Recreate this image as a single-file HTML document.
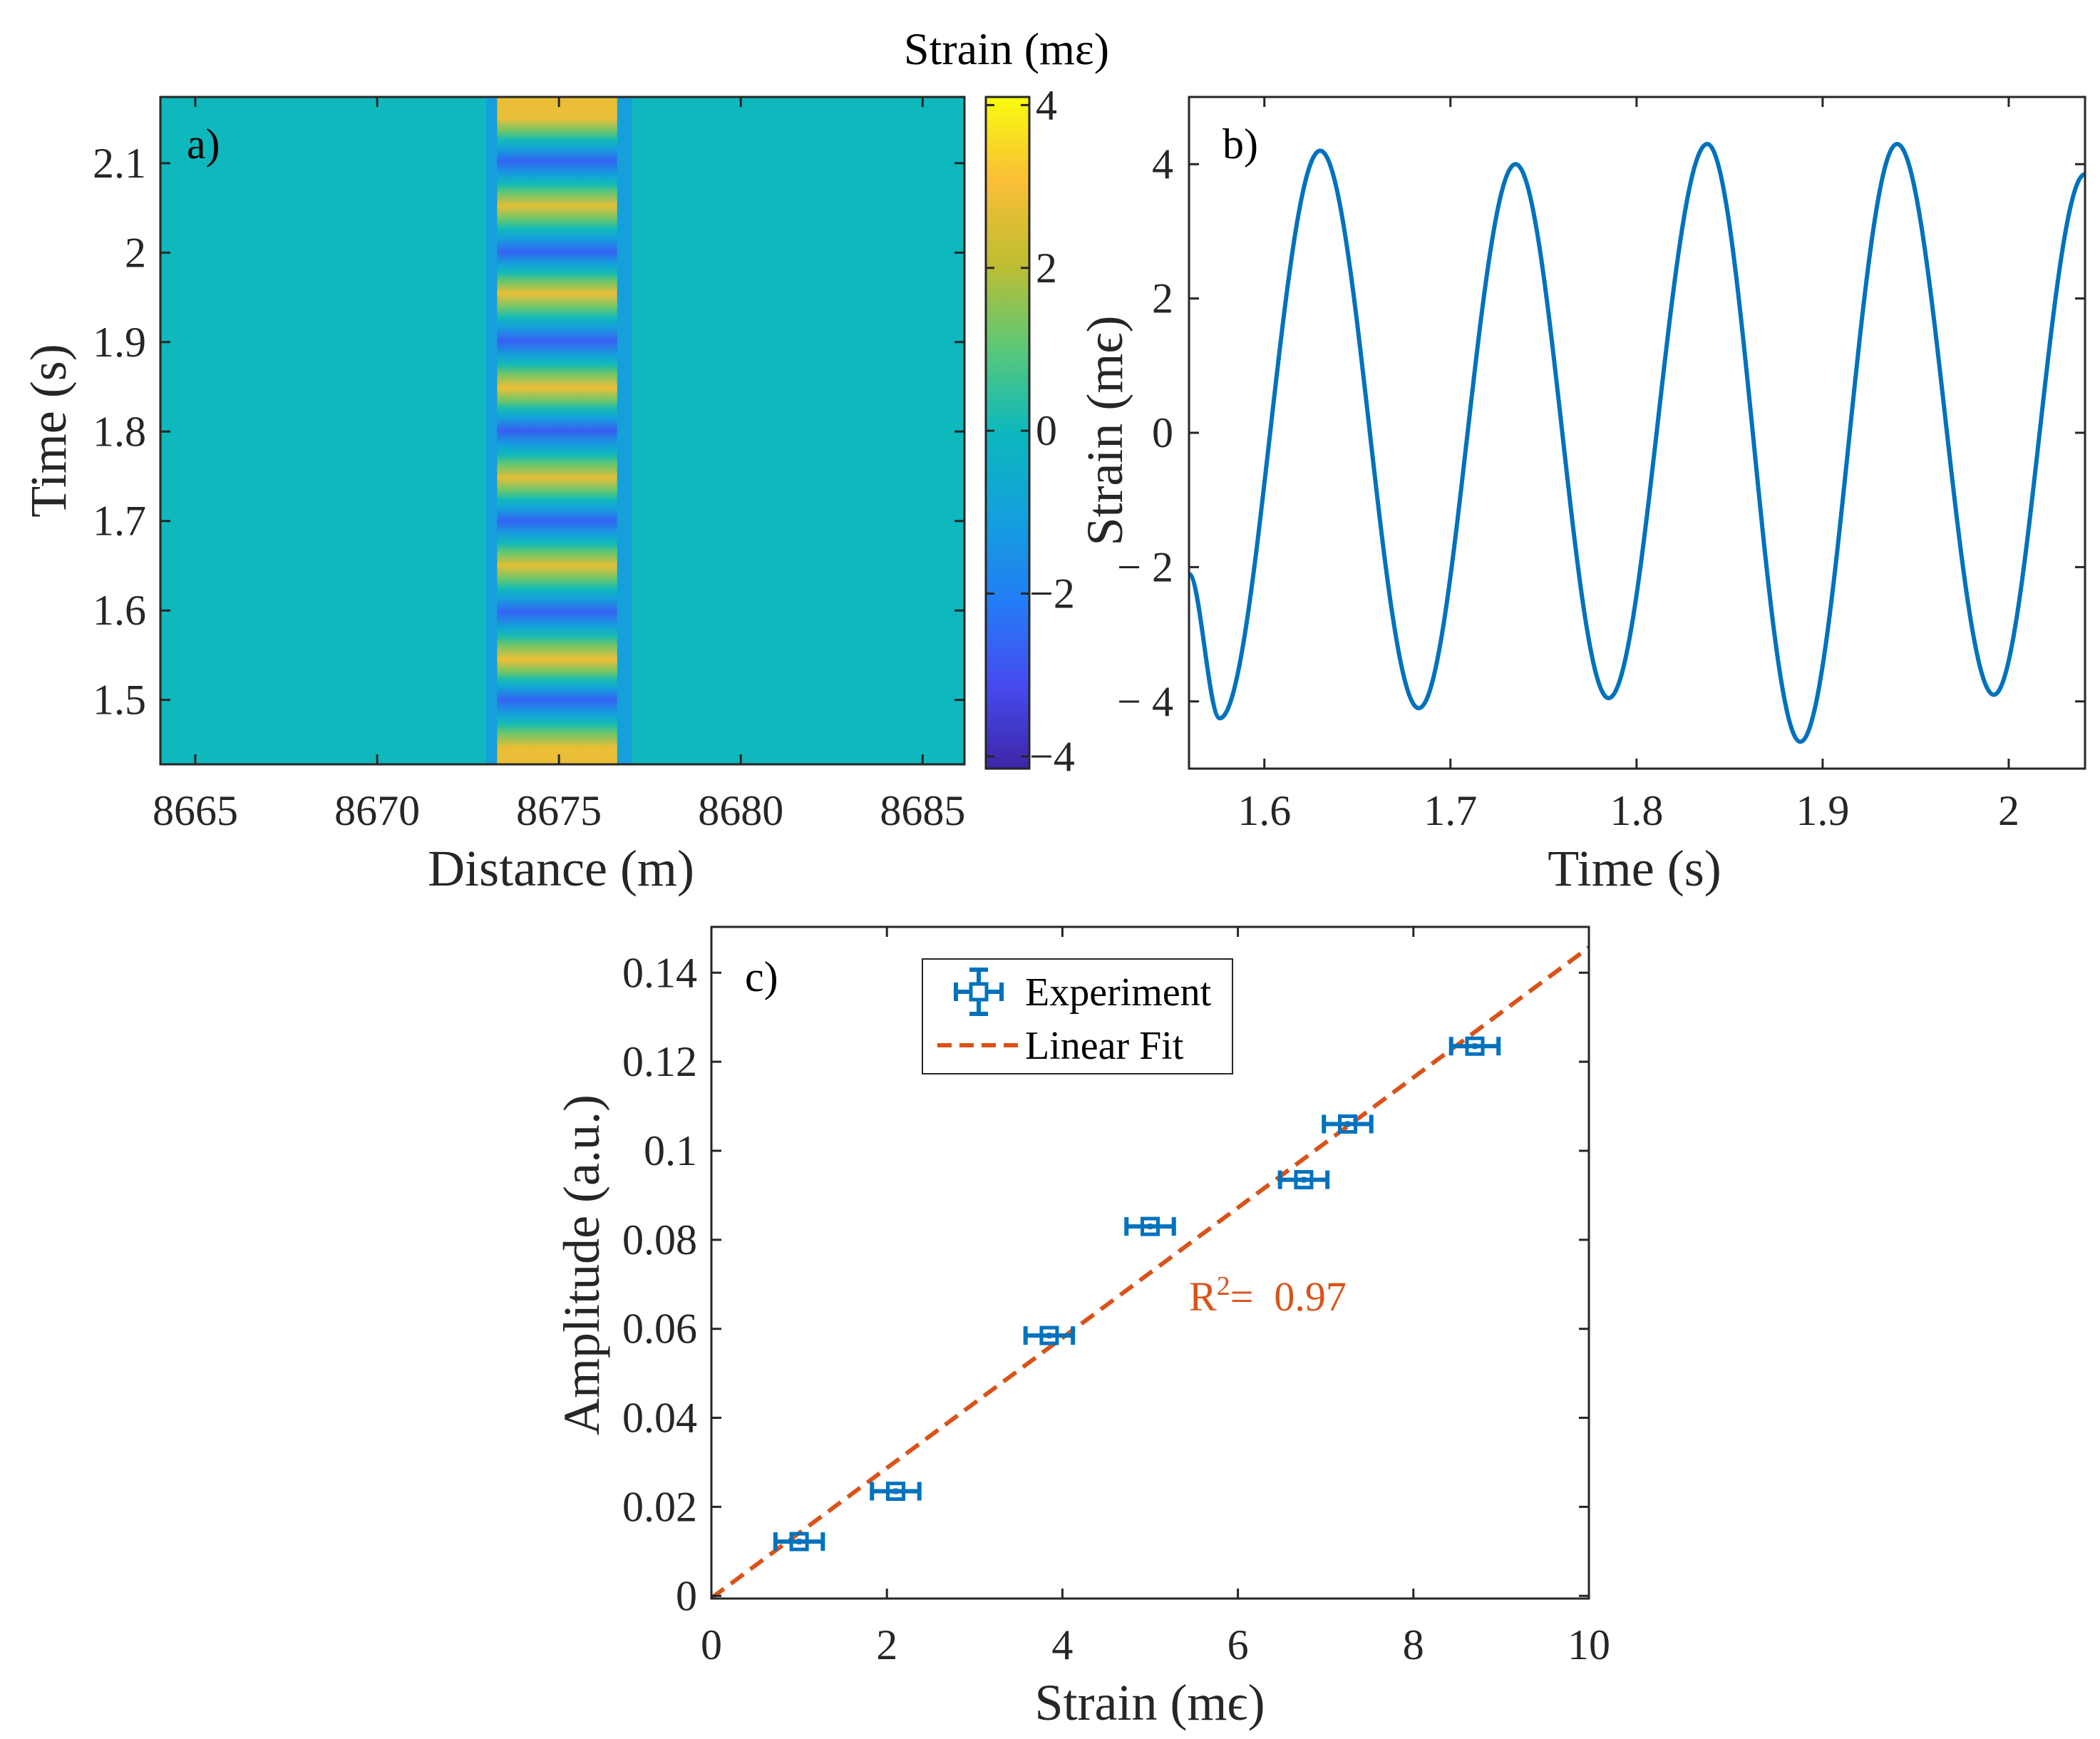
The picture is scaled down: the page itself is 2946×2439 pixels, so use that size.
<!DOCTYPE html>
<html><head><meta charset="utf-8"><style>
html,body{margin:0;padding:0;background:#fff}
svg{display:block;font-family:"Liberation Serif",serif}
</style></head><body>
<svg id="fig" width="2946" height="2439" viewBox="0 0 2946 2439" xmlns="http://www.w3.org/2000/svg">
<defs>
<clipPath id="clipA"><rect x="225" y="136" width="1128" height="936"/></clipPath>
<clipPath id="clipB"><rect x="1668" y="136" width="1257" height="942"/></clipPath>
<clipPath id="clipC"><rect x="998" y="1300" width="1231" height="942"/></clipPath>
</defs>
<g id="gA"></g>
<g id="gB"></g>
<g id="gC"></g>
</svg>
<script>
// ---------- data ----------
// Panel a
const aXTicks = [8665, 8670, 8675, 8680, 8685];
const aYTicks = [1.5, 1.6, 1.7, 1.8, 1.9, 2, 2.1];
const cbTicks = [-4, -2, 0, 2, 4];
const stripeTimes = [1.447, 1.500, 1.545, 1.598, 1.650, 1.700, 1.748, 1.801, 1.849, 1.901, 1.954, 2.001, 2.052, 2.102, 2.150];
const stripeValues = [2.8, -2.6, 2.9, -2.6, 2.7, -2.6, 2.7, -2.7, 2.9, -2.7, 2.8, -2.6, 2.7, -2.6, 2.8];
const bandEdges = [8673.3, 8676.6];
const sideBands = [[8673.0, 8673.3], [8676.6, 8677.0]];
const sideValue = -1.3;
const bgValue = 0;
// Panel b
const bXTicks = [1.6, 1.7, 1.8, 1.9, 2];
const bYTicks = [-4, -2, 0, 2, 4];
const bTimes = [1.5595, 1.576, 1.630, 1.683, 1.735, 1.785, 1.838, 1.888, 1.940, 1.992, 2.041];
const bValues = [-2.1, -4.25, 4.2, -4.1, 4.0, -3.95, 4.3, -4.6, 4.3, -3.9, 3.85];
// Panel c
const cXTicks = [0, 2, 4, 6, 8, 10];
const cYTicks = [0, 0.02, 0.04, 0.06, 0.08, 0.1, 0.12, 0.14];
const cYTickLabels = ["0", "0.02", "0.04", "0.06", "0.08", "0.1", "0.12", "0.14"];
const expStrain = [1.0, 2.1, 3.85, 5.0, 6.75, 7.25, 8.7];
const expAmp = [0.0122, 0.0235, 0.0585, 0.083, 0.0935, 0.106, 0.1235];
const expErr = [0.27, 0.27, 0.27, 0.27, 0.27, 0.27, 0.27];
const fitSlope = 0.01462;
const fitIntercept = -0.0005;
const r2Value = "0.97";

// ---------- helpers ----------
const NS = "http://www.w3.org/2000/svg";
function mk(tag, attrs, parent) {
  const e = document.createElementNS(NS, tag);
  for (const k in attrs) e.setAttribute(k, attrs[k]);
  parent.appendChild(e);
  return e;
}
function lin(d0, d1, p0, p1) { return v => p0 + (v - d0) / (d1 - d0) * (p1 - p0); }
const TXT = "#262626";
const TICKF = 60, LABF = 72;
function fmtMinus(v) { return v < 0 ? "\u2212" + Math.abs(v) : String(v); }

// parula-like colormap
const cmStops = [[0,[62,38,168]],[0.125,[70,75,240]],[0.25,[35,125,245]],[0.375,[20,160,220]],[0.5,[12,184,190]],[0.625,[90,200,120]],[0.75,[190,190,50]],[0.875,[250,190,55]],[1,[249,251,14]]];
function cmap(v, vmin, vmax) {
  let t = Math.max(0, Math.min(1, (v - vmin) / (vmax - vmin)));
  for (let i = 1; i < cmStops.length; i++) {
    if (t <= cmStops[i][0]) {
      const [t0, c0] = cmStops[i-1], [t1, c1] = cmStops[i];
      const f = (t - t0) / (t1 - t0);
      return "rgb(" + c0.map((c, j) => Math.round(c + (c1[j] - c) * f)).join(",") + ")";
    }
  }
  return "rgb(249,251,14)";
}

function boxAxes(g, L, T, R, B, xs, ys, xt, yt, tl) {
  mk("rect", {x: L, y: T, width: R-L, height: B-T, fill: "none", stroke: TXT, "stroke-width": 3}, g);
  xt.forEach(v => {
    const x = xs(v);
    const t = mk("path", {d: `M${x},${B}v-${tl}M${x},${T}v${tl}`, stroke: TXT, "stroke-width": 3}, g);
    
    
  });
  yt.forEach(v => {
    const y = ys(v);
    const t = mk("path", {d: `M${L},${y}h${tl}M${R},${y}h-${tl}`, stroke: TXT, "stroke-width": 3}, g);
    
    
  });
}
function text(g, x, y, s, size, anchor, name, extra) {
  const t = mk("text", Object.assign({x: x, y: y, "font-size": size, fill: TXT, "text-anchor": anchor}, extra || {}), g);
  t.textContent = s;
  
  
  return t;
}

// ---------- Panel a ----------
(function(){
  const g = document.getElementById("gA");
  const L = 225, R = 1353, T = 136, B = 1072;
  const xs = lin(8664.04, 8686.15, L, R);
  const ys = lin(1.428, 2.174, B, T);
  const vmin = -4.15, vmax = 4.1;
  const img = mk("g", {"clip-path": "url(#clipA)"}, g);
  const bg = mk("rect", {x: L, y: T, width: R-L, height: B-T, fill: cmap(bgValue, vmin, vmax)}, img);
  
  
  sideBands.forEach(sb => {
    const r = mk("rect", {x: xs(sb[0]), y: T, width: xs(sb[1]) - xs(sb[0]), height: B-T, fill: cmap(sideValue, vmin, vmax), opacity: 0.8}, img);
    
    
  });
  const defs = document.querySelector("defs");
  const grad = mk("linearGradient", {id: "stripeGrad", gradientUnits: "userSpaceOnUse", x1: 0, y1: B, x2: 0, y2: T}, defs);
  stripeTimes.forEach((t, i) => {
    const y = ys(t);
    if (i > 0) {
      // render-level transition through the colormap between stripes
      const yp = ys(stripeTimes[i-1]);
      [0.3, 0.5, 0.7].forEach(f => {
        const v = stripeValues[i-1] + (stripeValues[i] - stripeValues[i-1]) * f;
        const yy = yp + (y - yp) * f;
        mk("stop", {offset: ((B - yy) / (B - T)).toFixed(4), "stop-color": cmap(v, vmin, vmax)}, grad);
      });
    }
    mk("stop", {offset: ((B - y) / (B - T)).toFixed(4), "stop-color": cmap(stripeValues[i], vmin, vmax)}, grad);
  });
  const band = mk("rect", {x: xs(bandEdges[0]), y: T, width: xs(bandEdges[1]) - xs(bandEdges[0]), height: B-T, fill: "url(#stripeGrad)"}, img);
  
  
  boxAxes(g, L, T, R, B, xs, ys, aXTicks, aYTicks, 14);
  aXTicks.forEach(v => text(g, xs(v), 1157, String(v), TICKF, "middle", "x-tick-label"));
  aYTicks.forEach(v => text(g, 205, ys(v) + 20, String(v), TICKF, "end", "y-tick-label"));
  text(g, 787, 1242, "Distance (m)", LABF, "middle", "x-axis-title");
  text(g, 0, 0, "Time (s)", LABF, "middle", "y-axis-title", {transform: "translate(92,604) rotate(-90)"});
  text(g, 262, 222, "a)", TICKF, "start", "panel-label", {fill: "#000"});
  // colorbar
  const cL = 1383, cR = 1444, cT = 136, cB = 1078;
  const cys = lin(-4.15, 4.1, cB, cT);
  const cg = mk("linearGradient", {id: "cbGrad", x1: 0, y1: 1, x2: 0, y2: 0}, defs);
  cmStops.forEach(s => mk("stop", {offset: s[0], "stop-color": "rgb(" + s[1].join(",") + ")"}, cg));
  const cb = mk("rect", {x: cL, y: cT, width: cR-cL, height: cB-cT, fill: "url(#cbGrad)", stroke: TXT, "stroke-width": 3}, g);
  
  
  cbTicks.forEach(v => {
    const y = cys(v);
    const t = mk("path", {d: `M${cR},${y}h-12M${cL},${y}h12`, stroke: TXT, "stroke-width": 3}, g);
    
    
    text(g, v < 0 ? 1444 : 1453, y + 20, fmtMinus(v), TICKF, "start", "colorbar-tick-label");
  });
  text(g, 1412, 90, "Strain (m\u03b5)", 64, "middle", "colorbar-title", {fill: "#000"});
})();

// ---------- Panel b ----------
(function(){
  const g = document.getElementById("gB");
  const L = 1668, R = 2925, T = 136, B = 1078;
  const xs = lin(1.5595, 2.041, L, R);
  const ys = lin(-5, 5, B, T);
  let d = `M${xs(bTimes[0])},${ys(bValues[0])}`;
  for (let i = 1; i < bTimes.length; i++) {
    const x0 = xs(bTimes[i-1]), x1 = xs(bTimes[i]);
    const y0 = ys(bValues[i-1]), y1 = ys(bValues[i]);
    const dx = (x1 - x0) * 0.36;
    d += ` C${x0+dx},${y0} ${x1-dx},${y1} ${x1},${y1}`;
  }
  const line = mk("path", {d: d, fill: "none", stroke: "#0072BD", "stroke-width": 6, "clip-path": "url(#clipB)"}, g);
  
  
  boxAxes(g, L, T, R, B, xs, ys, bXTicks, bYTicks, 14);
  bXTicks.forEach(v => text(g, xs(v), 1157, String(v), TICKF, "middle", "x-tick-label"));
  bYTicks.forEach(v => text(g, 1646, ys(v) + 20, v < 0 ? "\u2212 " + Math.abs(v) : String(v), TICKF, "end", "y-tick-label"));
  text(g, 2293, 1242, "Time (s)", LABF, "middle", "x-axis-title");
  text(g, 0, 0, "Strain (m\u03f5)", LABF, "middle", "y-axis-title", {transform: "translate(1574,604) rotate(-90)"});
  text(g, 1715, 222, "b)", TICKF, "start", "panel-label", {fill: "#000"});
})();

// ---------- Panel c ----------
(function(){
  const g = document.getElementById("gC");
  const L = 998, R = 2229, T = 1300, B = 2242;
  const xs = lin(0, 10, L, R);
  const ys = lin(-0.0006, 0.1503, B, T);
  const fit = mk("line", {x1: xs(0), y1: ys(fitIntercept), x2: xs(10), y2: ys(fitIntercept + fitSlope * 10), stroke: "#D95319", "stroke-width": 6, "stroke-dasharray": "22 12", "clip-path": "url(#clipC)"}, g);
  
  
  expStrain.forEach((sx, i) => {
    const x = xs(sx), y = ys(expAmp[i]);
    const xl = xs(sx - expErr[i]), xr = xs(sx + expErr[i]);
    const p = mk("g", {}, g);
    
    
    mk("path", {d: `M${xl},${y}H${xr}M${xl},${y-13}v26M${xr},${y-13}v26M${x},${y-4}v8`, stroke: "#0072BD", "stroke-width": 6, fill: "none"}, p);
    mk("rect", {x: x-11, y: y-11, width: 22, height: 22, fill: "none", stroke: "#0072BD", "stroke-width": 5}, p);
  });
  boxAxes(g, L, T, R, B, xs, ys, cXTicks, cYTicks, 14);
  cXTicks.forEach(v => text(g, xs(v), 2327, String(v), TICKF, "middle", "x-tick-label"));
  cYTicks.forEach((v, i) => text(g, 978, ys(v) + 20, cYTickLabels[i], TICKF, "end", "y-tick-label"));
  text(g, 1613, 2412, "Strain (m\u03f5)", LABF, "middle", "x-axis-title");
  text(g, 0, 0, "Amplitude (a.u.)", LABF, "middle", "y-axis-title", {transform: "translate(840,1774) rotate(-90)"});
  text(g, 1045, 1390, "c)", TICKF, "start", "panel-label", {fill: "#000"});
  const r2 = mk("text", {x: 1668, y: 1838, "font-size": 58, fill: "#D95319"}, g);
  
  
  r2.innerHTML = 'R<tspan dy="-22" font-size="38">2</tspan><tspan dy="22">=\u00a0\u00a0' + r2Value + '</tspan>';
  // legend
  const lg = mk("g", {}, g);
  
  
  mk("rect", {x: 1294, y: 1345, width: 435, height: 161, fill: "#fff", stroke: TXT, "stroke-width": 2}, lg);
  const le = mk("g", {}, lg);
  
  
  mk("path", {d: "M1341,1391H1405M1341,1378v26M1405,1378v26M1373,1360V1422M1360,1360h26M1360,1422h26", stroke: "#0072BD", "stroke-width": 6, fill: "none"}, le);
  mk("rect", {x: 1362, y: 1380, width: 22, height: 22, fill: "#fff", stroke: "#0072BD", "stroke-width": 5}, le);
  text(le, 1438, 1410, "Experiment", 56, "start", "legend-label-experiment", {fill: "#000"});
  const lf = mk("g", {}, lg);
  
  
  mk("line", {x1: 1315, y1: 1466, x2: 1430, y2: 1466, stroke: "#D95319", "stroke-width": 6, "stroke-dasharray": "20 11"}, lf);
  text(lf, 1438, 1485, "Linear Fit", 56, "start", "legend-label-linear-fit", {fill: "#000"});
})();
</script>
</body></html>
